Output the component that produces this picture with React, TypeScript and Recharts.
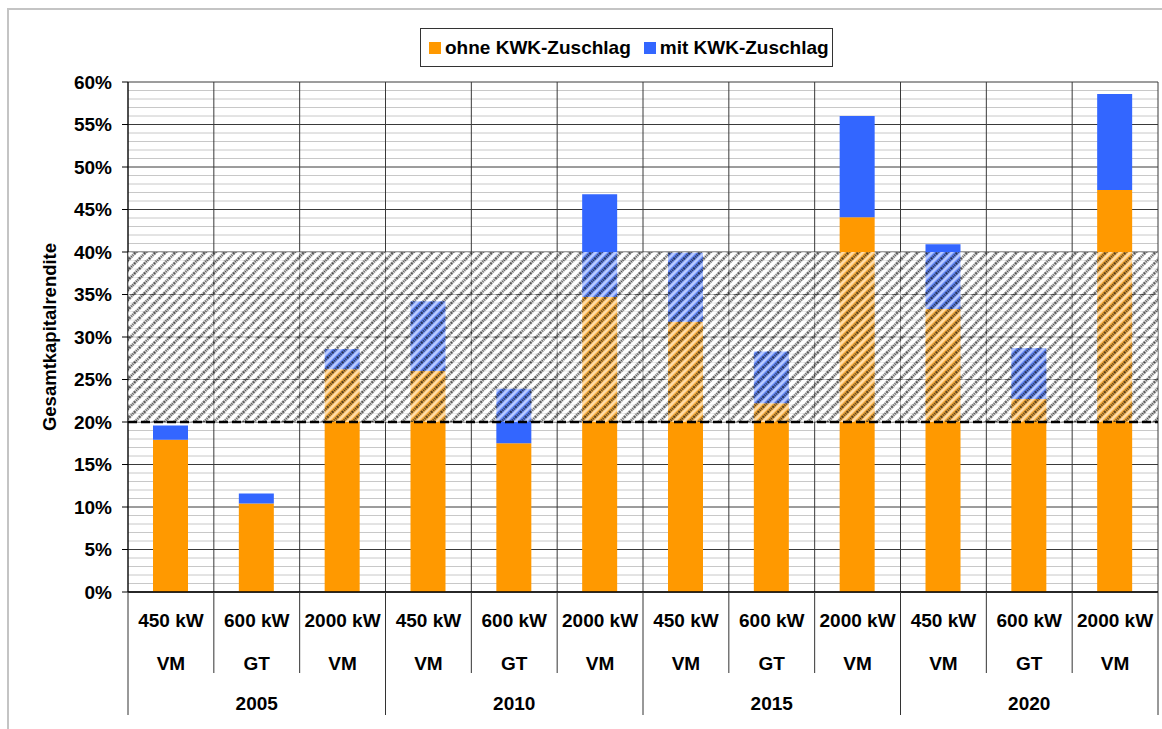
import React from 'react'
import {
  ComposedChart, Bar, XAxis, YAxis, CartesianGrid, ReferenceArea, ReferenceLine,
} from 'recharts'

// Kategorien (Jahr / Leistung / Technik)
const yearOf = ['2005', '2005', '2005', '2010', '2010', '2010', '2015', '2015', '2015', '2020', '2020', '2020']
const sizes = ['450 kW', '600 kW', '2000 kW', '450 kW', '600 kW', '2000 kW', '450 kW', '600 kW', '2000 kW', '450 kW', '600 kW', '2000 kW']
const types = ['VM', 'GT', 'VM', 'VM', 'GT', 'VM', 'VM', 'GT', 'VM', 'VM', 'GT', 'VM']

// Gesamtkapitalrendite in %
const ohneZuschlag = [17.9, 10.4, 26.2, 26.0, 17.5, 34.7, 31.8, 22.2, 44.1, 33.3, 22.7, 47.3]
// zusätzlicher Anteil durch KWK-Zuschlag (gestapelt)
const mitZuschlag = [1.7, 1.2, 2.4, 8.2, 6.4, 12.1, 8.1, 6.1, 11.9, 7.6, 6.0, 11.3]

const majorTicks = [0, 5, 10, 15, 20, 25, 30, 35, 40, 45, 50, 55, 60]
const minorTicks = Array.from({ length: 61 }, (_, i) => i).filter((v) => v % 5 !== 0)
const yMax = 60

const band = { from: 20, to: 40 }
const threshold = 20

const FONT = '"Liberation Sans", Arial, Helvetica, sans-serif'
const ORANGE = '#FF9900'
const BLUE = '#3366FF'

const data = sizes.map((s, i) => ({
  key: String(i),
  year: yearOf[i],
  size: s,
  type: types[i],
  ohne: ohneZuschlag[i],
  mit: mitZuschlag[i],
}))

function CatTick(props: any) {
  const { x, y, payload } = props
  const i: number = payload.index
  const half: number = payload.offset || 43
  const left = x - half
  const right = x + half
  const isYearStart = i % 3 === 0
  const isLast = i === data.length - 1
  const isYearMid = i % 3 === 1
  const txt = { fontFamily: FONT, fontSize: 19, fontWeight: 700, fill: '#000' }
  return (
    <g>
      <line x1={left} x2={left} y1={y} y2={y + (isYearStart ? 123 : 81)} stroke="#333" strokeWidth={1} />
      {isLast && <line x1={right} x2={right} y1={y} y2={y + 123} stroke="#333" strokeWidth={1} />}
      <text x={x} y={y + 35} textAnchor="middle" {...txt}>{data[i].size}</text>
      <text x={x} y={y + 78} textAnchor="middle" {...txt}>{data[i].type}</text>
      {isYearMid && <text x={x} y={y + 118} textAnchor="middle" {...txt}>{data[i].year}</text>}
    </g>
  )
}

export default function App() {
  return (
    <div style={{ position: 'absolute', left: 0, top: 0, width: 1162, height: 729, overflow: 'hidden', background: '#fff', fontFamily: FONT }}>
      <div style={{ position: 'absolute', left: 7, top: 8, width: 1300, height: 900, border: '2px solid #c4c4c4' }} />

      {/* Legende */}
      <div style={{
        position: 'absolute', left: 420, top: 28, width: 411, height: 37, border: '1px solid #333',
        display: 'flex', alignItems: 'center', fontSize: 19, fontWeight: 700, color: '#000', background: '#fff',
      }}>
        <span style={{ width: 12, height: 12, background: ORANGE, marginLeft: 8, marginRight: 4, display: 'inline-block' }} />
        <span>ohne KWK-Zuschlag</span>
        <span style={{ width: 12, height: 12, background: BLUE, marginLeft: 13, marginRight: 4, display: 'inline-block' }} />
        <span>mit KWK-Zuschlag</span>
      </div>

      <ComposedChart
        width={1162}
        height={729}
        data={data}
        margin={{ top: 82, right: 4, bottom: 0, left: 0 }}
        barCategoryGap={0}
        style={{ position: 'absolute', left: 0, top: 0 }}
      >
        <defs>
          <pattern id="hatch" width="7" height="7" patternUnits="userSpaceOnUse" patternTransform="rotate(45)">
            <rect x="0" y="0" width="7" height="7" fill="rgba(255,255,255,0.25)" />
            <line x1="1.5" y1="0" x2="1.5" y2="7" stroke="rgba(10,10,10,0.72)" strokeWidth="2.4" strokeDasharray="1.3 0.7" />
            <line x1="4.6" y1="0" x2="4.6" y2="7" stroke="rgba(255,255,255,0.6)" strokeWidth="2.4" />
          </pattern>
        </defs>
        <CartesianGrid
          horizontal
          vertical={false}
          stroke="#c8c8c8"
          strokeWidth={1}
          horizontalCoordinatesGenerator={({ offset }: any) =>
            minorTicks.map((v) => offset.top + offset.height * (1 - v / yMax))}
        />
        <CartesianGrid
          horizontal
          vertical
          stroke="#3a3a3a"
          strokeWidth={1}
          verticalCoordinatesGenerator={({ offset }: any) =>
            data.map((_, i) => offset.left + (i * offset.width) / data.length).concat(offset.left + offset.width)}
        />
        <XAxis
          dataKey="key"
          interval={0}
          tickLine={false}
          tickSize={0}
          tickMargin={0}
          height={137}
          axisLine={{ stroke: '#000', strokeWidth: 1.5 }}
          tick={<CatTick />}
        />
        <YAxis
          domain={[0, yMax]}
          ticks={majorTicks}
          interval={0}
          allowDataOverflow
          width={128}
          tickSize={6}
          tickMargin={10}
          tickLine={{ stroke: '#000' }}
          axisLine={{ stroke: '#000' }}
          tickFormatter={(v: number) => `${v}%`}
          tick={{ fontFamily: FONT, fontSize: 19, fontWeight: 700, fill: '#000' }}
          label={{
            content: (p: any) => {
              const vb = p.viewBox
              const cx = 56
              const cy = vb.y + vb.height / 2
              return (
                <text x={cx} y={cy} transform={`rotate(-90 ${cx} ${cy})`} textAnchor="middle"
                  fontFamily={FONT} fontSize={18.5} fontWeight={700} fill="#000">
                  Gesamtkapitalrendite
                </text>
              )
            },
          }}
        />
        <Bar dataKey="ohne" name="ohne KWK-Zuschlag" stackId="a" fill={ORANGE} barSize={35} isAnimationActive={false} />
        <Bar dataKey="mit" name="mit KWK-Zuschlag" stackId="a" fill={BLUE} barSize={35} isAnimationActive={false} />
        <ReferenceArea y1={band.from} y2={band.to} fill="url(#hatch)" fillOpacity={1} stroke="none" ifOverflow="visible" zIndex={900} />
        <ReferenceLine y={threshold} stroke="#000" strokeWidth={2.5} strokeDasharray="9 4" zIndex={950} />
      </ComposedChart>
    </div>
  )
}
